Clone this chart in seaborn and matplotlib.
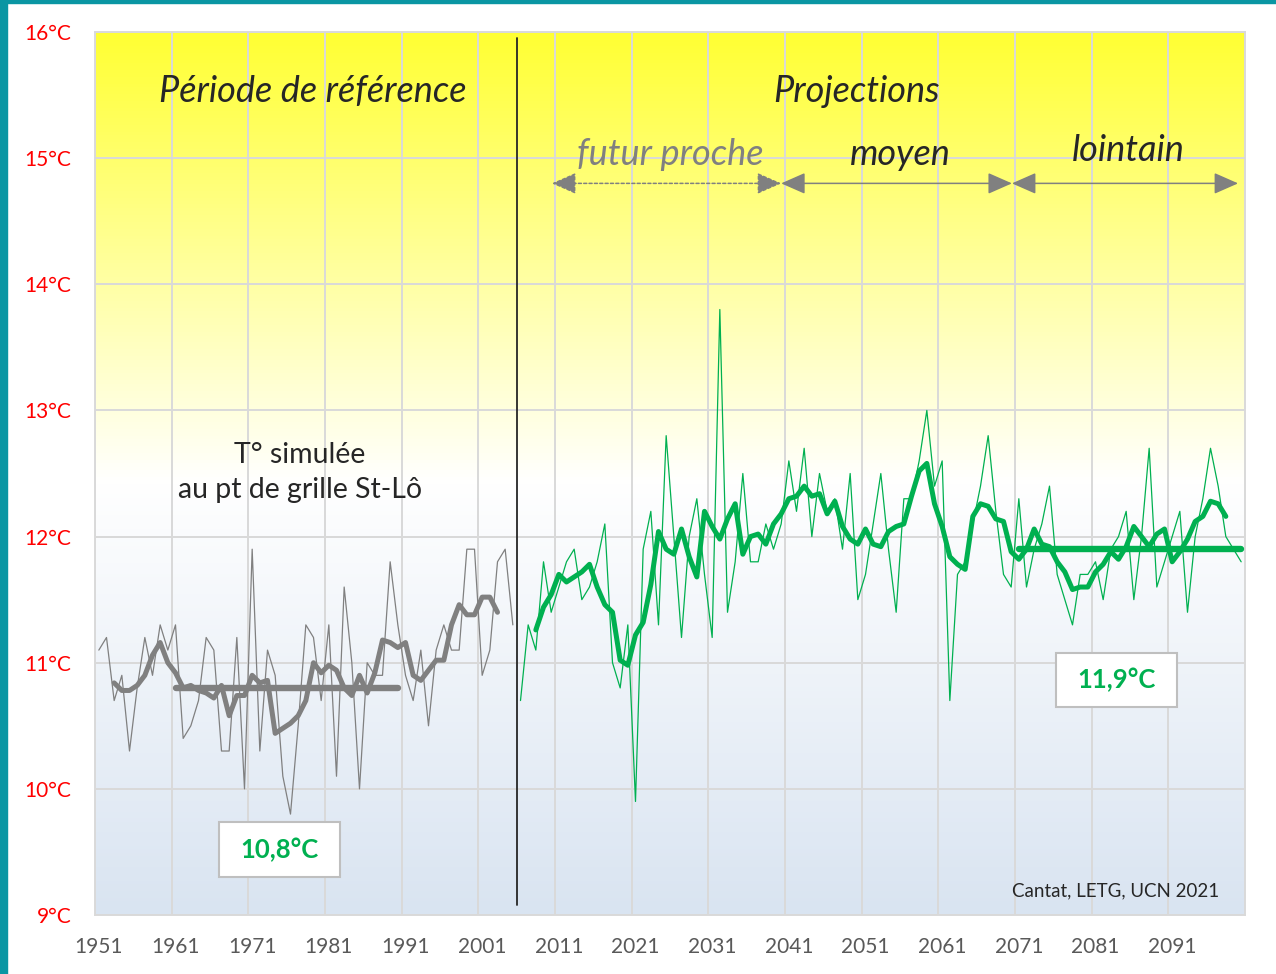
import numpy as np
import pandas as pd
import seaborn as sns
import matplotlib.pyplot as plt
from matplotlib.colors import LinearSegmentedColormap
from matplotlib.patches import Rectangle

# reference period 1951-2005 (simulated T° at St-Lô grid point)
years_ref = list(range(1951, 2006))
temp_ref = [11.1, 11.2, 10.7, 10.9, 10.3, 10.8, 11.2, 10.9, 11.3, 11.1,
            11.3, 10.4, 10.5, 10.7, 11.2, 11.1, 10.3, 10.3, 11.2, 10.0,
            11.9, 10.3, 11.1, 10.9, 10.1, 9.8, 10.5, 11.3, 11.2, 10.7,
            11.3, 10.1, 11.6, 11.0, 10.0, 11.0, 10.9, 10.9, 11.8, 11.3,
            10.9, 10.7, 11.1, 10.5, 11.1, 11.3, 11.1, 11.1, 11.9, 11.9,
            10.9, 11.1, 11.8, 11.9, 11.3]

# projections 2006-2100
years_proj = list(range(2006, 2101))
temp_proj = [10.7, 11.3, 11.1, 11.8, 11.4, 11.6, 11.8, 11.9, 11.5, 11.6,
             11.8, 12.1, 11.0, 10.8, 11.3, 9.9, 11.9, 12.2, 11.3, 12.8,
             12.0, 11.2, 12.0, 12.3, 11.7, 11.2, 13.8, 11.4, 11.8, 12.5,
             11.8, 11.8, 12.1, 11.9, 12.1, 12.6, 12.2, 12.7, 12.0, 12.5,
             12.2, 12.3, 11.9, 12.5, 11.5, 11.7, 12.1, 12.5, 11.9, 11.4,
             12.3, 12.3, 12.6, 13.0, 12.4, 12.6, 10.7, 11.7, 11.8, 12.1,
             12.4, 12.8, 12.2, 11.7, 11.6, 12.3, 11.6, 11.9, 12.1, 12.4,
             11.7, 11.5, 11.3, 11.7, 11.7, 11.8, 11.5, 11.9, 12.0, 12.2,
             11.5, 12.0, 12.7, 11.6, 11.8, 12.0, 12.2, 11.4, 12.0, 12.3,
             12.7, 12.4, 12.0, 11.9, 11.8]

# period means
mean_ref_years = [1961, 1990]
mean_ref = 10.8
mean_far_years = [2071, 2100]
mean_far = 11.9

ytick_vals = [9, 10, 11, 12, 13, 14, 15, 16]
xtick_years = list(range(1951, 2100, 10))

grey = '#808080'
green = '#00B050'

# 5-year centred moving averages
smooth_ref = pd.Series(temp_ref).rolling(5, center=True).mean()
smooth_proj = pd.Series(temp_proj).rolling(5, center=True).mean()

sns.set_style('white')
plt.rcParams['font.family'] = ['Lato', 'DejaVu Sans']

fig = plt.figure(figsize=(12.76, 9.74), dpi=100)
ax = fig.add_axes([95 / 1276, 1 - 915 / 974, 1150 / 1276, 883 / 974])

# background gradient blue -> white -> yellow
cmap = LinearSegmentedColormap.from_list(
    'bg', [(0, '#D9E4F1'), (0.49, '#FFFFFF'), (1, '#FFFF33')])
grad = np.linspace(0, 1, 256).reshape(-1, 1)
ax.imshow(grad, extent=[1950.5, 2100.5, 9, 16], origin='lower',
          aspect='auto', cmap=cmap, zorder=0)

# thin yearly lines
sns.lineplot(x=years_ref, y=temp_ref, color=grey, linewidth=0.9, ax=ax, zorder=3)
sns.lineplot(x=years_proj, y=temp_proj, color=green, linewidth=0.9, ax=ax, zorder=3)

# smoothed lines
sns.lineplot(x=years_ref, y=smooth_ref, color=grey, linewidth=3.6, ax=ax,
             zorder=4, solid_capstyle='round', solid_joinstyle='round')
sns.lineplot(x=years_proj, y=smooth_proj, color=green, linewidth=3.6, ax=ax,
             zorder=4, solid_capstyle='round', solid_joinstyle='round')

# period means
sns.lineplot(x=mean_ref_years, y=[mean_ref, mean_ref], color=grey, linewidth=4.6,
             ax=ax, zorder=5, solid_capstyle='round')
sns.lineplot(x=mean_far_years, y=[mean_far, mean_far], color=green, linewidth=4.6,
             ax=ax, zorder=5, solid_capstyle='round')

# separation reference / projections
ax.axvline(2005.5, ymin=0.011, ymax=0.993, color='#262626', lw=1.3, zorder=6)

ax.set_xlim(1950.5, 2100.5)
ax.set_ylim(9, 16)
ax.set_xlabel('')
ax.set_ylabel('')

ax.set_xticks(xtick_years)
ax.set_xticks(np.arange(1950.5, 2100, 10), minor=True)
ax.set_xticklabels([str(y) for y in xtick_years], color='#595959', fontsize=15)
ax.set_yticks(ytick_vals)
ax.set_yticklabels([f'{v}°C' for v in ytick_vals], color='#FF0000', fontsize=15)
ax.tick_params(which='both', length=0)
ax.tick_params(axis='x', pad=16)
ax.tick_params(axis='y', pad=17)

ax.grid(False)
ax.xaxis.grid(True, which='minor', color='#D9D9D9', lw=1.4, zorder=1)
ax.yaxis.grid(True, which='major', color='#D9D9D9', lw=1.4, zorder=1)
ax.set_axisbelow(False)
for s in ax.spines.values():
    s.set_color('#D9D9D9')
    s.set_linewidth(1.4)

# headings
ax.text(1978.9, 15.53, 'Période de référence', fontsize=26, style='italic',
        ha='center', va='center', zorder=7)
ax.text(2049.8, 15.53, 'Projections', fontsize=26, style='italic',
        ha='center', va='center', zorder=7)
ax.text(2025.5, 15.03, 'futur proche', fontsize=26, style='italic', color=grey,
        ha='center', va='center', zorder=7)
ax.text(2055.5, 15.03, 'moyen', fontsize=26, style='italic',
        ha='center', va='center', zorder=7)
ax.text(2085.3, 15.06, 'lointain', fontsize=26, style='italic',
        ha='center', va='center', zorder=7)

arrow_kw = dict(arrowstyle='<|-|>,head_length=0.75,head_width=0.33', color=grey,
                lw=1.1, mutation_scale=20, shrinkA=0, shrinkB=0)
ax.annotate('', xy=(2010.1, 14.8), xytext=(2040.0, 14.8),
            arrowprops=dict(arrow_kw, linestyle=(0, (2, 1.5))), zorder=7)
ax.annotate('', xy=(2040.0, 14.8), xytext=(2070.1, 14.8), arrowprops=arrow_kw, zorder=7)
ax.annotate('', xy=(2070.1, 14.8), xytext=(2099.6, 14.8), arrowprops=arrow_kw, zorder=7)

ax.text(1977.2, 12.51, 'T° simulée\nau pt de grille St-Lô', fontsize=20.5,
        ha='center', va='center', linespacing=1.45, zorder=7)

# mean value boxes
ax.add_patch(Rectangle((1966.7, 9.30), 15.8, 0.435, facecolor='white',
                       edgecolor='#BFBFBF', lw=1.5, zorder=8))
ax.text(1974.6, 9.515, '10,8°C', fontsize=18.5, fontweight='bold', color=green,
        ha='center', va='center', zorder=9)
ax.add_patch(Rectangle((2075.85, 10.647), 15.75, 0.428, facecolor='white',
                       edgecolor='#BFBFBF', lw=1.5, zorder=8))
ax.text(2083.7, 10.86, '11,9°C', fontsize=18.5, fontweight='bold', color=green,
        ha='center', va='center', zorder=9)

ax.text(2097.1, 9.19, 'Cantat, LETG, UCN 2021', fontsize=13.5,
        ha='right', va='center', zorder=7)

# teal frame of the slide
fig.patches.append(Rectangle((0, 0), 7 / 1276, 1, transform=fig.transFigure,
                             color='#0A96A3', zorder=10))
fig.patches.append(Rectangle((0, 1 - 3 / 974), 1, 3 / 974, transform=fig.transFigure,
                             color='#0A96A3', zorder=10))

fig.savefig('out.png', dpi=100)
